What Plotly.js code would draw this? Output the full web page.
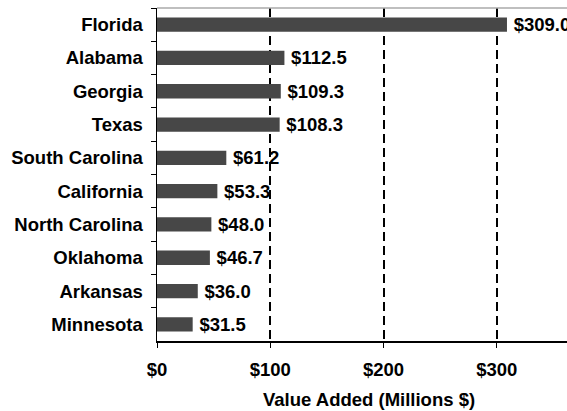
<!DOCTYPE html>
<html>
<head>
<meta charset="utf-8">
<script src="https://cdn.plot.ly/plotly-3.0.1.min.js"></script>
<style>html,body{margin:0;padding:0;background:#fff;}#chart{width:567px;height:411px;}</style>
</head>
<body>
<div id="chart"></div>
<script>
const states = ["Florida","Alabama","Georgia","Texas","South Carolina","California","North Carolina","Oklahoma","Arkansas","Minnesota"];
const valueAdded = [309.0,112.5,109.3,108.3,61.2,53.3,48.0,46.7,36.0,31.5];
const tickVals = [0,100,200,300];
const tickText = ["$0","$100","$200","$300"];
const xTitle = "Value Added (Millions $)";

const F = "Liberation Sans, Arial, Helvetica, sans-serif";
const font = {family: F, size: 18.5, color: "#000", weight: "bold"};

const trace = {
  type: "bar",
  orientation: "h",
  y: states,
  x: valueAdded,
  marker: {color: "#474747", line: {width: 0}},
  texttemplate: "\u2009$%{x:.1f}",
  textposition: "outside",
  constraintext: "none",
  cliponaxis: false,
  textfont: font,
  outsidetextfont: font,
  hoverinfo: "none"
};

const layout = {
  width: 567, height: 411,
  margin: {l: 157, r: 0, t: 8, b: 70, pad: 0},
  paper_bgcolor: "#fff", plot_bgcolor: "#fff",
  showlegend: false,
  bargap: 0.57,
  font: font,
  xaxis: {
    range: [0, 362],
    tickvals: tickVals, ticktext: tickText,
    ticks: "outside", ticklen: 5, tickwidth: 1, tickcolor: "#000",
    showline: true, linecolor: "#000", linewidth: 1.5,
    showgrid: true, gridcolor: "#000", gridwidth: 2, griddash: "9px,5px",
    zeroline: false,
    tickfont: font,
    ticklabelstandoff: 6,
    fixedrange: true
  },
  yaxis: {
    type: "category",
    autorange: "reversed",
    tickson: "boundaries",
    ticks: "outside", ticklen: 5, tickwidth: 1, tickcolor: "#000",
    showline: true, linecolor: "#000", linewidth: 1.5,
    showgrid: false, zeroline: false,
    tickfont: font,
    ticklabelstandoff: 9,
    fixedrange: true
  },
  shapes: [{type: "line", xref: "paper", yref: "paper", x0: 0, x1: 1, y0: 1, y1: 1, line: {color: "#aaaaaa", width: 1.5}}],
  annotations: [{
    text: xTitle, xref: "paper", yref: "paper", x: 0.518, y: -0.177,
    xanchor: "center", yanchor: "middle", showarrow: false, font: font
  }]
};

Plotly.newPlot("chart", [trace], layout, {displayModeBar: false, staticPlot: true});
</script>
</body>
</html>
